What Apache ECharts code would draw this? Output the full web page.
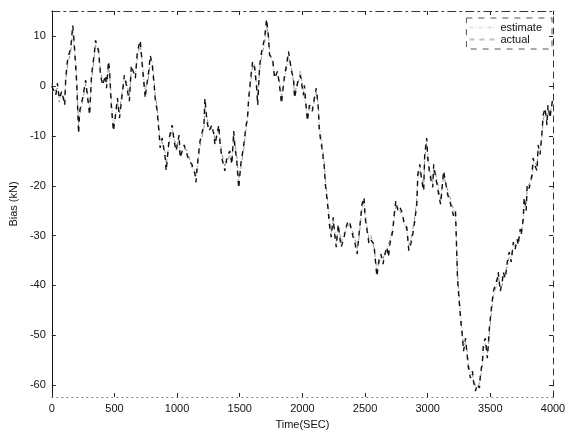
<!DOCTYPE html>
<html>
<head>
<meta charset="utf-8">
<script src="https://cdn.jsdelivr.net/npm/echarts@6.0.0/dist/echarts.min.js"></script>
<style>
  html, body { margin: 0; padding: 0; background: #fff; }
  #bias_chart { width: 570px; height: 435px; }
</style>
</head>
<body>
<div id="bias_chart"></div>
<script>
// sample times (sec)
const timeSec = [
  0, 8, 32, 45, 60, 80, 103, 111, 127, 151,
  167, 175, 190, 198, 214, 222, 246, 270, 286, 302,
  317, 341, 349, 373, 389, 405, 429, 437, 452, 460,
  476, 492, 508, 524, 540, 556, 579, 595, 619, 635,
  667, 683, 706, 722, 746, 754, 770, 786, 802, 817,
  825, 841, 857, 865, 881, 905, 913, 937, 960, 976,
  992, 1016, 1024, 1056, 1079, 1095, 1119, 1143, 1150, 1167,
  1183, 1214, 1222, 1238, 1254, 1278, 1294, 1302, 1333, 1341,
  1357, 1381, 1397, 1421, 1437, 1452, 1460, 1476, 1492, 1508,
  1532, 1548, 1563, 1571, 1587, 1603, 1619, 1635, 1643, 1659,
  1675, 1698, 1714, 1730, 1738, 1762, 1778, 1802, 1817, 1833,
  1857, 1873, 1889, 1913, 1929, 1937, 1968, 1984, 2008, 2016,
  2040, 2056, 2079, 2095, 2111, 2127, 2135, 2159, 2175, 2183,
  2198, 2206, 2214, 2230, 2246, 2254, 2270, 2286, 2298, 2310,
  2333, 2349, 2365, 2381, 2405, 2421, 2437, 2452, 2476, 2492,
  2500, 2516, 2532, 2548, 2571, 2587, 2595, 2611, 2627, 2643,
  2659, 2675, 2687, 2698, 2722, 2730, 2746, 2762, 2778, 2802,
  2810, 2833, 2849, 2865, 2881, 2897, 2913, 2921, 2937, 2952,
  2968, 2976, 2992, 3000, 3016, 3040, 3048, 3063, 3079, 3087,
  3103, 3127, 3159, 3183, 3206, 3222, 3238, 3262, 3278, 3286,
  3302, 3317, 3325, 3341, 3357, 3365, 3381, 3397, 3413, 3421,
  3437, 3444, 3460, 3476, 3484, 3492, 3508, 3524, 3540, 3556,
  3563, 3579, 3595, 3603, 3619, 3635, 3651, 3667, 3683, 3698,
  3714, 3722, 3738, 3746, 3762, 3770, 3786, 3794, 3810, 3833,
  3841, 3857, 3873, 3881, 3897, 3913, 3921, 3937, 3952, 3960,
  3976, 4000
];

// actual bias (kN)
const actualBias = [
  0, 0, -1.8, 0.6, -2.5, -1, -3.8, 1.6, 5.6, 7.6,
  12.2, 10, 4.2, 1, -9.5, -5, -2.4, 1.2, -2.4, -5.8,
  2.2, 7, 9.2, 7, 2.2, 0.2, 2.2, -0.4, 5, 3.6,
  -4.4, -9, -5.8, -2.4, -6.4, -3, 2.2, 0.2, -3, 4.2,
  1.6, 7, 9.2, 4.2, -2.4, -0.4, 2.2, 6.2, 4.2, 0.2,
  -2.4, -5, -9.8, -12.4, -10.4, -14.4, -17, -10.4, -7.8, -11,
  -13, -9.8, -14.4, -11.8, -13.7, -15, -15.7, -17.7, -19.3, -14.4,
  -11, -7.8, -2.4, -7, -9, -7.8, -9.8, -11.8, -7.8, -11,
  -14.4, -17, -14.4, -13, -15.7, -9, -11.8, -15, -20.5, -15.7,
  -11.8, -8.4, -5.8, -2.4, 1.6, 5, 3.6, -0.4, -3.8, 4.2,
  7, 9.6, 13.5, 9.6, 6.2, 5.6, 1.6, 3, 0.2, -3.5,
  2.2, 4.2, 7, 3, 1.6, -2.4, 1.6, 2.2, -1.8, 0.2,
  -7, -3.8, -5, -2.4, -0.4, -4.4, -9, -13, -16.3, -19.7,
  -23, -25, -27.5, -30.3, -26.3, -29, -32.3, -27.7, -30.3, -32.3,
  -30.3, -28.3, -27, -27.7, -30.3, -31.7, -33.7, -29.7, -23.7, -22.3,
  -26.3, -29, -31.7, -30.9, -31.7, -36.3, -38.2, -34.9, -33.7, -35.7,
  -33.7, -32.3, -34.3, -31.7, -29, -26.3, -23, -25, -24.3, -25.7,
  -27.7, -28.3, -33, -31.7, -29.7, -27, -23.7, -17.7, -15.7, -19,
  -21, -13.7, -10.4, -14.4, -17.7, -20.3, -15.7, -18.3, -20.3, -21.7,
  -23.7, -17, -21.7, -23.7, -26, -25, -38.8, -46.6, -50.6, -53.2,
  -50.6, -54.6, -56.6, -58.6, -57.2, -59.2, -61.2, -59.8, -60.6, -57.8,
  -55.2, -51.8, -50.6, -54.6, -51.8, -48.6, -44.6, -41.2, -39.8, -38.6,
  -37.3, -41.2, -39.2, -37.3, -38.6, -35.3, -33.3, -35.3, -31.3, -32.7,
  -30.7, -31.9, -28.7, -29.9, -26.7, -22.3, -25, -19.7, -20.5, -17.7,
  -14.4, -16, -17, -11.8, -13.7, -9, -5.8, -4.4, -7.8, -3.8,
  -6.4, -2
];

// estimated bias (kN)
const estimateBias = [
  0.5, -1, -0.8, -0.2, -3.2, -1.8, -2.6, 0.8, 4.6, 6.8,
  11, 9.2, 5.2, 2, -7.8, -6, -3, 0.4, -1.6, -4.8,
  1.2, 6.2, 8.4, 7.8, 3, 1, 1.4, 0.4, 4, 2.8,
  -3.2, -7.8, -6.4, -3.2, -5.4, -2, 1.4, 1, -2, 3.2,
  2.4, 6, 8.4, 5, -1.6, 0.4, 1.4, 5.4, 5, 1,
  -1.6, -4.2, -8.6, -11.6, -11.2, -13.4, -15.8, -11.2, -8.6, -10.2,
  -12.2, -10.6, -13.4, -12.6, -12.8, -14.2, -16.4, -16.8, -18.2, -15.2,
  -12, -8.6, -4, -6.2, -8.2, -8.6, -9, -11, -8.6, -10.2,
  -13.4, -16, -15.2, -13.8, -14.8, -10, -11, -14, -18.8, -16.4,
  -12.6, -9.2, -6.6, -3.4, 0.6, 4, 4.4, 0.4, -2.6, 3.2,
  6, 8.6, 12, 10.4, 7, 4.8, 2.4, 2.2, 1, -2.2,
  1.4, 3.4, 6, 3.8, 0.8, -1.4, 0.8, 3, -1, -0.6,
  -6, -4.6, -4.2, -3.2, -1.2, -3.6, -8, -12, -15.4, -18.6,
  -22, -24.2, -26.6, -29.4, -27, -28.2, -31.4, -28.6, -29.4, -31.4,
  -29.4, -29, -27.8, -28.4, -29.4, -30.8, -32.6, -30.4, -24.6, -23.2,
  -25.4, -28.2, -30.8, -30, -32.4, -35.4, -37.2, -35.6, -34.4, -34.8,
  -33, -33, -33.4, -30.8, -28.2, -27, -24, -24.2, -25, -26.4,
  -26.8, -29, -32, -30.8, -28.8, -26.2, -22.6, -18.6, -16.6, -18.2,
  -20, -14.6, -11.4, -13.4, -16.8, -19.4, -16.6, -17.4, -19.4, -20.8,
  -22.8, -18, -20.8, -22.8, -24.8, -26, -37.6, -45.6, -49.6, -52.2,
  -51.4, -53.6, -55.6, -57.8, -58, -58.4, -60.2, -60.6, -59.6, -58.6,
  -56, -52.8, -51.6, -53.6, -52.6, -49.6, -45.6, -42.2, -40.8, -39.4,
  -38, -40.2, -40, -38.2, -37.6, -36.2, -34.2, -34.4, -32.2, -32,
  -31.4, -31, -29.6, -29.2, -27.6, -23.4, -24.2, -20.6, -19.6, -18.6,
  -15.4, -15.2, -16.2, -12.8, -12.8, -10, -6.8, -5.2, -7, -4.6,
  -5.6, -2.8
];

// tick labels
const yTicks = [-60, -50, -40, -30, -20, -10, 0, 10];
const xTicks = [0, 500, 1000, 1500, 2000, 2500, 3000, 3500, 4000];

const FONT = 'Liberation Sans';

let myChart = echarts.init(document.getElementById('bias_chart'), null, { renderer: 'canvas' });

const estData = timeSec.map((t, i) => [t, estimateBias[i]]);
const actData = timeSec.map((t, i) => [t, actualBias[i]]);

// matlab-ish box: ticks point inward on all four sides
const tickStyle = { show: true, inside: true, length: 4, lineStyle: { color: '#222', width: 1 } };
const plainNum = function (v) { return String(v); };  // no "1,000"

let option = {
  backgroundColor: '#fff',
  animation: false,
  textStyle: { fontFamily: FONT },
  grid: { left: 49, right: 17, top: 11, bottom: 33, containLabel: false },
  legend: {
    orient: 'vertical',
    right: 18,
    top: 18,
    itemWidth: 26,
    itemHeight: 10,
    itemGap: 1,
    padding: [4, 10, 4, 2],
    borderColor: '#555',
    borderWidth: 1,
    borderType: [6, 6],
    // the scan lost the sample lines, keep them very faint
    itemStyle: { opacity: 0 },
    lineStyle: { opacity: 0.25 },
    textStyle: { fontFamily: FONT, fontSize: 11, color: '#111', lineHeight: 11 },
    data: ['estimate', 'actual']
  },
  xAxis: [{
    type: 'value',
    min: 0,
    max: 4000,
    interval: 500,
    name: 'Time(SEC)',
    nameLocation: 'middle',
    nameGap: 22,
    nameTextStyle: { fontFamily: FONT, fontSize: 11, color: '#111' },
    axisLine: { show: true, onZero: false, lineStyle: { color: '#777', width: 1, type: [1, 4] } },
    axisTick: Object.assign({ customValues: xTicks }, tickStyle),
    axisLabel: { customValues: xTicks, formatter: plainNum, margin: 6, fontFamily: FONT, fontSize: 11, color: '#111' },
    splitLine: { show: false }
  }, {
    type: 'value',
    position: 'top',
    min: 0,
    max: 4000,
    interval: 500,
    axisLine: { show: true, onZero: false, lineStyle: { color: '#333', width: 1, type: [8, 4, 2, 4] } },
    axisTick: tickStyle,
    axisLabel: { show: false },
    splitLine: { show: false }
  }],
  yAxis: [{
    type: 'value',
    min: -62.4,
    max: 15.1,
    name: 'Bias (kN)',
    nameLocation: 'middle',
    nameGap: 32,
    nameTextStyle: { fontFamily: FONT, fontSize: 11, color: '#111' },
    axisLine: { show: true, onZero: false, lineStyle: { color: '#111', width: 1 } },
    axisTick: Object.assign({ customValues: yTicks }, tickStyle),
    axisLabel: { customValues: yTicks, formatter: plainNum, margin: 6, fontFamily: FONT, fontSize: 11, color: '#111' },
    splitLine: { show: false }
  }, {
    type: 'value',
    position: 'right',
    min: -62.4,
    max: 15.1,
    axisLine: { show: true, onZero: false, lineStyle: { color: '#333', width: 1, type: [6, 5] } },
    axisTick: Object.assign({ customValues: yTicks }, tickStyle),
    axisLabel: { show: false },
    splitLine: { show: false }
  }],
  series: [{
    name: 'estimate',
    type: 'line',
    xAxisIndex: 0,
    yAxisIndex: 0,
    showSymbol: false,
    symbol: 'none',
    color: '#8a8a8a',
    lineStyle: { color: '#8a8a8a', width: 0.9, type: [4, 2, 1, 2] },
    data: estData
  }, {
    name: 'actual',
    type: 'line',
    xAxisIndex: 0,
    yAxisIndex: 0,
    showSymbol: false,
    symbol: 'none',
    color: '#111',
    lineStyle: { color: '#111', width: 1.4, type: [5, 5] },
    data: actData
  }]
};

myChart.setOption(option);
</script>
</body>
</html>
